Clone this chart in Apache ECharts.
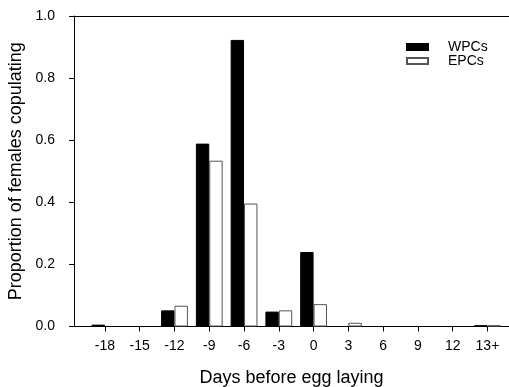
<!DOCTYPE html>
<html>
<head>
<meta charset="utf-8">
<script src="https://cdn.jsdelivr.net/npm/echarts@6/dist/echarts.min.js"></script>
<style>
  html, body { margin: 0; padding: 0; background: #fff; }
  #chart { width: 509px; height: 387px; }
</style>
</head>
<body>
<div id="chart"></div>
<script>
const days = ['-18', '-15', '-12', '-9', '-6', '-3', '0', '3', '6', '9', '12', '13+']
const wpcs = [0.006, 0, 0.052, 0.589, 0.923, 0.048, 0.24, 0, 0, 0, 0, 0.004]
const epcs = [0, 0, 0.067, 0.534, 0.396, 0.052, 0.072, 0.012, 0, 0, 0, 0.004]

const positions = days.map((d, i) => i)
const font = 'Liberation Sans, Arial, sans-serif'

// skip empty bars so no outline is drawn on the axis
function toPoints(values) {
  return values
    .map((v, i) => [positions[i], v])
    .filter(p => p[1] > 0)
}

const myChart = echarts.init(document.getElementById('chart'))

const option = {
  animation: false,
  textStyle: { fontFamily: font },
  grid: { left: 74, right: 0, top: 16, bottom: 60.5, containLabel: false, outerBoundsMode: 'none' },
  legend: {
    orient: 'vertical',
    left: 401,
    top: 35,
    itemWidth: 21,
    itemHeight: 6,
    itemGap: 0,
    icon: 'rect',
    textStyle: { fontSize: 14, color: '#000', lineHeight: 9, fontFamily: font, padding: [0, 0, 0, 15] },
    data: ['WPCs', 'EPCs']
  },
  xAxis: [
    {
      type: 'value',
      min: -0.89,
      max: 11.62,
      name: 'Days before egg laying',
      nameLocation: 'middle',
      nameGap: 43,
      nameTextStyle: { fontSize: 18, color: '#000', fontFamily: font },
      splitLine: { show: false },
      axisLine: { onZero: false, lineStyle: { color: '#000', width: 1 } },
      axisTick: { customValues: positions, length: 5, lineStyle: { color: '#000' } },
      axisLabel: {
        customValues: positions,
        margin: 13,
        fontSize: 14,
        color: '#000',
        formatter: (v) => days[Math.round(v)]
      }
    },
    {
      type: 'value',
      position: 'top',
      min: -0.89,
      max: 11.62,
      splitLine: { show: false },
      axisLine: { show: true, onZero: false, lineStyle: { color: '#000', width: 1 } },
      axisTick: { show: false },
      axisLabel: { show: false }
    }
  ],
  yAxis: {
    type: 'value',
    min: 0,
    max: 1,
    interval: 0.2,
    name: 'Proportion of females copulating',
    nameLocation: 'middle',
    nameGap: 44,
    nameTextStyle: { fontSize: 18, color: '#000', fontFamily: font },
    splitLine: { show: false },
    axisLine: { show: true, onZero: false, lineStyle: { color: '#000', width: 1 } },
    axisTick: { show: true, length: 5, lineStyle: { color: '#000' } },
    axisLabel: {
      margin: 19,
      fontSize: 14,
      color: '#000',
      formatter: (v) => v.toFixed(1)
    }
  },
  series: [
    {
      name: 'WPCs',
      type: 'bar',
      xAxisIndex: 0,
      barWidth: 13.4,
      barGap: '0%',
      data: toPoints(wpcs),
      itemStyle: { color: '#000', borderColor: '#000', borderWidth: 1 }
    },
    {
      name: 'EPCs',
      type: 'bar',
      xAxisIndex: 0,
      barWidth: 13.4,
      barGap: '0%',
      data: toPoints(epcs),
      itemStyle: { color: '#fff', borderColor: '#555', borderWidth: 1 }
    }
  ]
}

myChart.setOption(option)
</script>
</body>
</html>
